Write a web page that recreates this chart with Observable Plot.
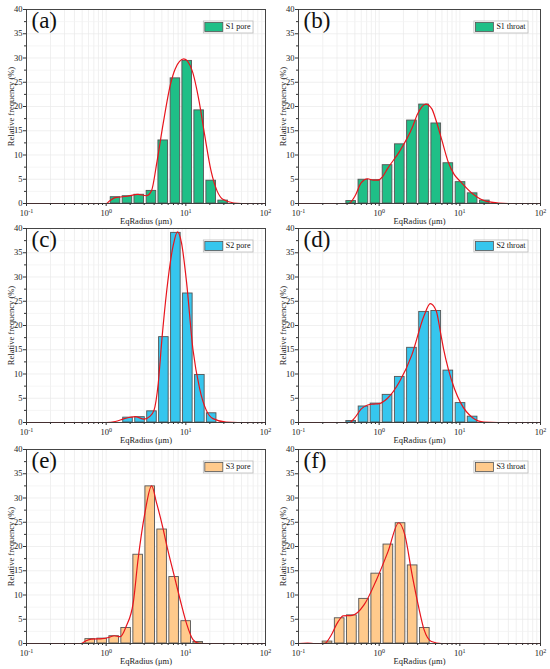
<!DOCTYPE html>
<html><head><meta charset="utf-8">
<script src="https://cdn.jsdelivr.net/npm/d3@7"></script>
<script src="https://cdn.jsdelivr.net/npm/@observablehq/plot@0.6"></script>
<style>
body{margin:0;background:#fff;}
#wrap{position:relative;width:550px;height:669px;background:#fff;}
#wrap svg{position:absolute;}
#wrap svg, #wrap svg text{font-family:'Liberation Serif','Times New Roman',serif !important;}
</style></head><body><div id="wrap"></div>
<script>
// ---- data ----
const xTicks = [0.1, 1, 10, 100];
const xMinor = [0.2,0.3,0.4,0.5,0.6,0.7,0.8,0.9,2,3,4,5,6,7,8,9,20,30,40,50,60,70,80,90];
const yTicks = [0,5,10,15,20,25,30,35,40];
const yMinor = [2.5,7.5,12.5,17.5,22.5,27.5,32.5,37.5];

const s1PoreCenters = [1.31, 1.85, 2.6, 3.7, 5.2, 7.4, 10.4, 14.7, 20.8, 29.4];
const s1PoreValues  = [1.3, 1.5, 1.8, 2.6, 13.0, 25.8, 29.4, 19.2, 4.7, 0.6];
const s1PoreFitX = [0.1, 0.9, 1.0, 1.1, 1.3, 1.85, 2.5, 3.2, 3.7, 4.35, 5.2, 6.4, 7.33, 9.44, 12.0, 14.7, 17.2, 20.8, 24.8, 29.5, 40, 50, 100];
const s1PoreFitY = [0, 0, 0, 0.5, 1.2, 1.5, 1.9, 1.6, 2.6, 8.7, 16.5, 24.5, 27.7, 29.8, 27.4, 21, 14.2, 6.6, 2.5, 0.8, 0.1, 0, 0];

const s1ThroatCenters = [0.45, 0.637, 0.9, 1.27, 1.8, 2.55, 3.6, 5.1, 7.2, 10.2, 14.4, 20.4];
const s1ThroatValues  = [0.5, 4.9, 4.8, 7.9, 12.2, 17.1, 20.4, 16.5, 8.3, 4.4, 2.1, 0.6];
const s1ThroatFitX = [0.1, 0.3, 0.42, 0.5, 0.6, 0.72, 0.85, 0.95, 1.1, 1.27, 1.8, 2.55, 3.0, 3.8, 4.5, 5.1, 6.0, 7.2, 8.5, 10.2, 14.4, 20, 30, 40, 100];
const s1ThroatFitY = [0, 0, 0, 1.5, 4.3, 5.1, 4.8, 4.8, 5.5, 7.2, 10.8, 15.5, 18.5, 20.5, 19.5, 17, 13, 8.5, 6, 4.5, 2, 0.6, 0.1, 0, 0];

const s2PoreCenters = [1.88, 2.66, 3.76, 5.3, 7.5, 10.6, 15.0, 21.1];
const s2PoreValues  = [1.0, 1.1, 2.3, 17.6, 39.1, 26.6, 9.8, 1.9];
const s2PoreFitX = [0.1, 1.0, 1.3, 1.7, 2.3, 3.0, 3.5, 3.98, 4.5, 5.0, 5.74, 6.94, 7.86, 8.83, 10.2, 12.3, 14.9, 18.1, 21.9, 32, 45, 100];
const s2PoreFitY = [0, 0, 0.2, 0.8, 1.2, 0.7, 1.2, 2.5, 8, 17, 27, 36.5, 39.3, 37, 29, 15, 7, 2.5, 0.8, 0.1, 0, 0];

const s2ThroatCenters = [0.45, 0.64, 0.9, 1.27, 1.8, 2.55, 3.6, 5.1, 7.2, 10.2, 14.4];
const s2ThroatValues  = [0.3, 3.3, 3.9, 5.7, 9.4, 15.4, 22.8, 23.0, 10.7, 4.0, 1.2];
const s2ThroatFitX = [0.1, 0.43, 0.5, 0.6, 0.72, 0.85, 1.0, 1.27, 1.8, 2.55, 3.6, 4.3, 5.1, 5.77, 6.3, 7.2, 8.6, 10.2, 14.4, 20, 30, 100];
const s2ThroatFitY = [0, 0, 1.0, 2.8, 3.6, 3.8, 3.9, 5, 8.5, 14, 22, 24.5, 23, 18.5, 15.1, 11, 6.9, 4.1, 1.0, 0.1, 0, 0];

const s3PoreCenters = [0.63, 0.89, 1.26, 1.78, 2.52, 3.57, 5.04, 7.13, 10.1, 14.3];
const s3PoreValues  = [0.9, 1.0, 1.5, 3.2, 18.3, 32.4, 23.5, 13.7, 4.6, 0.3];
const s3PoreFitX = [0.1, 0.3, 0.48, 0.55, 0.65, 0.9, 1.1, 1.26, 1.5, 1.78, 2.2, 2.5, 3.07, 3.72, 4.29, 5.16, 5.73, 7.27, 8.8, 10.3, 12.3, 14.9, 100];
const s3PoreFitY = [0, 0, 0, 0.5, 0.9, 1.0, 1.3, 1.6, 1.4, 3.5, 8.7, 17, 27, 32.5, 29, 23.8, 20.4, 13.5, 8, 3.9, 0.8, 0, 0];

const s3ThroatCenters = [0.229, 0.324, 0.459, 0.65, 0.92, 1.3, 1.84, 2.6, 3.68];
const s3ThroatValues  = [0.4, 5.2, 5.8, 9.2, 14.4, 20.4, 24.8, 16.1, 3.2];
const s3ThroatFitX = [0.1, 0.13, 0.16, 0.21, 0.25, 0.31, 0.358, 0.463, 0.652, 0.918, 1.29, 1.75, 2.08, 2.56, 3.04, 3.61, 4.45, 5.93, 100];
const s3ThroatFitY = [0, 0.1, 0, 0, 1.5, 4.5, 5.7, 5.8, 8, 13, 19, 24.9, 22.4, 14.2, 8, 2.8, 0.4, 0, 0];

const panelLetters = ["(a)", "(b)", "(c)", "(d)", "(e)", "(f)"];
const legendNames = ["S1 pore", "S1 throat", "S2 pore", "S2 throat", "S3 pore", "S3 throat"];
const sampleColors = ["#1fbf87", "#1fbf87", "#36c6ee", "#36c6ee", "#ffca8c", "#ffca8c"];

// ---- build ----
const panels = [
  {c: s1PoreCenters, v: s1PoreValues, fx: s1PoreFitX, fy: s1PoreFitY},
  {c: s1ThroatCenters, v: s1ThroatValues, fx: s1ThroatFitX, fy: s1ThroatFitY},
  {c: s2PoreCenters, v: s2PoreValues, fx: s2PoreFitX, fy: s2PoreFitY},
  {c: s2ThroatCenters, v: s2ThroatValues, fx: s2ThroatFitX, fy: s2ThroatFitY},
  {c: s3PoreCenters, v: s3PoreValues, fx: s3PoreFitX, fy: s3PoreFitY},
  {c: s3ThroatCenters, v: s3ThroatValues, fx: s3ThroatFitX, fy: s3ThroatFitY}
];
const rowTops = [1, 220, 441];
const wrap = document.getElementById("wrap");
const FONT = "'Liberation Serif','Times New Roman',serif";
const halfW = Math.pow(10, 0.06);

panels.forEach((p, i) => {
  const col = i % 2, row = Math.floor(i / 2);
  const ml = col === 0 ? 26 : 23, mr = 10, mt = 8, mb = 20;
  const W = 275, H = 222;
  const bars = p.c.map((c, k) => ({x1: c / halfW, x2: c * halfW, y: p.v[k]}));
  const fit = p.fx.map((x, k) => ({x, y: p.fy[k]}));
  const color = sampleColors[i];
  const chart = Plot.plot({
    width: W, height: H, marginLeft: ml, marginRight: mr, marginTop: mt, marginBottom: mb,
    style: {fontFamily: FONT, fontSize: "8px", background: "transparent", color: "#1a1a1a", overflow: "visible"},
    x: {type: "log", domain: [0.1, 100]},
    y: {domain: [0, 40]},
    marks: [
      Plot.ruleX(xMinor, {stroke: "#e9e9e9", strokeWidth: 0.7}),
      Plot.ruleX(xTicks, {stroke: "#e9e9e9", strokeWidth: 0.7}),
      Plot.ruleY(yTicks, {stroke: "#e9e9e9", strokeWidth: 0.7}),
      Plot.ruleY(yMinor, {stroke: "#f0f0f0", strokeWidth: 0.7}),
      Plot.rectY(bars, {x1: "x1", x2: "x2", y1: 0, y2: "y", fill: color, stroke: "#555", strokeWidth: 0.9}),
      Plot.line(fit, {x: "x", y: "y", stroke: "#e8141c", strokeWidth: 1.2, curve: "monotone-x"}),
      Plot.frame({stroke: "#333", strokeWidth: 0.9}),
      Plot.axisX(xMinor, {tickSize: 2, tickFormat: () => "", label: null, stroke: "#333"}),
      Plot.axisX(xTicks, {tickSize: 3, tickPadding: 3, stroke: "#333", fontSize: 8.5,
        tickFormat: d => String(Math.round(Math.log10(d))),
        label: "EqRadius (μm)", labelAnchor: "center", labelArrow: "none", labelOffset: 20}),
      Plot.axisY(yMinor, {tickSize: 2, tickFormat: () => "", label: null, stroke: "#333"}),
      Plot.axisY(yTicks, {tickSize: 3, tickPadding: 1, stroke: "#333", fontSize: 8.5,
        label: "Relative frequency (%)", labelAnchor: "center", labelArrow: "none", labelOffset: 19}),
      Plot.text([panelLetters[i]], {frameAnchor: "top-left", dx: 5, dy: 2, fontSize: 23, lineAnchor: "top", textAnchor: "start", fill: "#111"})
    ]
  });
  chart.style.left = (col * 275) + "px";
  chart.style.top = rowTops[row] + "px";
  wrap.appendChild(chart);

  // superscript exponents for x tick labels
  d3.select(chart).selectAll('g[aria-label="x-axis tick label"] text').each(function() {
    const t = d3.select(this);
    const e = t.text();
    if (e === "") return;
    t.text("10");
    t.append("tspan").attr("dy", "-0.45em").attr("font-size", "6px").text(e);
  });

  // legend box
  const svg = d3.select(chart);
  const right = W - mr - 12, topY = mt + 12;
  const g = svg.append("g").attr("font-family", FONT).attr("font-size", "8px").attr("text-anchor", "start");
  const box = g.append("rect").attr("fill", "white").attr("stroke", "#bbb").attr("stroke-width", 0.8);
  const sw = g.append("rect").attr("fill", color).attr("stroke", "#555").attr("stroke-width", 0.8);
  const tx = g.append("text").text(legendNames[i]).attr("fill", "#111").attr("text-anchor", "start").attr("dominant-baseline", "middle");
  const tw = tx.node().getComputedTextLength();
  const boxW = 2 + 18 + 3 + tw + 2, boxH = 12;
  const bx = right - boxW;
  box.attr("x", bx).attr("y", topY).attr("width", boxW).attr("height", boxH);
  sw.attr("x", bx + 1.5).attr("y", topY + 1.5).attr("width", 18).attr("height", 9);
  tx.attr("x", bx + 1.5 + 18 + 3).attr("y", topY + 6.5);
});
</script></body></html>
